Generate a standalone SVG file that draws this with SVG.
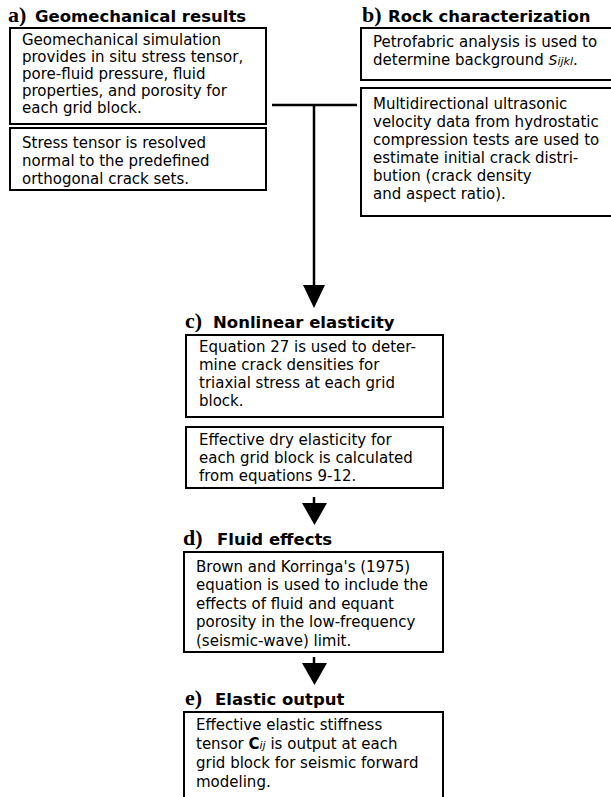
<svg xmlns="http://www.w3.org/2000/svg" width="611" height="797" viewBox="0 0 611 797">
<style>
.box{fill:#fff;stroke:#000;stroke-width:2}
.t{font-family:"DejaVu Sans","Liberation Sans",sans-serif;font-size:15px;fill:#000}
.h{font-family:"DejaVu Sans","Liberation Sans",sans-serif;font-size:16.5px;font-weight:bold;fill:#000}
.l{font-family:"Liberation Serif","Times New Roman",serif;font-size:22px;font-weight:bold;fill:#000}
.ln{stroke:#000;stroke-width:2.5;fill:none}
</style>
<rect width="611" height="797" fill="#fff"/>
<g id="connectors">
<line class="ln" x1="272" y1="105" x2="357" y2="105"/>
<line class="ln" x1="314" y1="105" x2="314" y2="288"/>
<polygon points="303,285 325,285 314,308"/>
<line class="ln" x1="314" y1="497" x2="314" y2="505"/>
<polygon points="302,503 327,503 314.5,525"/>
<line class="ln" x1="314" y1="657" x2="314" y2="665"/>
<polygon points="302,663 327,663 314.5,685"/>
</g>
<g id="node-a">
<text class="l" x="8" y="22">a)</text>
<text class="h" x="35" y="22">Geomechanical results</text>
<rect class="box" x="10" y="28" width="256" height="96"/>
<text class="t" x="22" y="45">Geomechanical simulation</text>
<text class="t" x="22" y="62">provides in situ stress tensor,</text>
<text class="t" x="22" y="79">pore-fluid pressure, fluid</text>
<text class="t" x="22" y="96">properties, and porosity for</text>
<text class="t" x="22" y="113">each grid block.</text>
<rect class="box" x="10" y="128" width="256" height="62"/>
<text class="t" x="22" y="148">Stress tensor is resolved</text>
<text class="t" x="22" y="166">normal to the predefined</text>
<text class="t" x="22" y="184">orthogonal crack sets.</text>
</g>
<g id="node-b">
<text class="l" x="362" y="22">b)</text>
<text class="h" x="388" y="22">Rock characterization</text>
<rect class="box" x="361" y="28" width="260" height="52"/>
<text class="t" x="373" y="47">Petrofabric analysis is used to</text>
<text class="t" x="373" y="65">determine background <tspan font-style="italic" font-size="14">S</tspan><tspan font-style="italic" font-size="11">ijkl</tspan>.</text>
<rect class="box" x="361" y="88" width="260" height="128"/>
<text class="t" x="373" y="109">Multidirectional ultrasonic</text>
<text class="t" x="373" y="127">velocity data from hydrostatic</text>
<text class="t" x="373" y="145">compression tests are used to</text>
<text class="t" x="373" y="163">estimate initial crack distri-</text>
<text class="t" x="373" y="181">bution (crack density</text>
<text class="t" x="373" y="199">and aspect ratio).</text>
</g>
<g id="node-c">
<text class="l" x="185" y="328">c)</text>
<text class="h" x="213" y="328">Nonlinear elasticity</text>
<rect class="box" x="186" y="335" width="257" height="82"/>
<text class="t" x="199" y="352">Equation 27 is used to deter-</text>
<text class="t" x="199" y="370">mine crack densities for</text>
<text class="t" x="199" y="388">triaxial stress at each grid</text>
<text class="t" x="199" y="406">block.</text>
<rect class="box" x="186" y="427" width="257" height="61"/>
<text class="t" x="199" y="445">Effective dry elasticity for</text>
<text class="t" x="199" y="463">each grid block is calculated</text>
<text class="t" x="199" y="481">from equations 9-12.</text>
</g>
<g id="node-d">
<text class="l" x="183" y="545">d)</text>
<text class="h" x="217" y="545">Fluid effects</text>
<rect class="box" x="184" y="552" width="259" height="100"/>
<text class="t" x="196" y="572">Brown and Korringa's (1975)</text>
<text class="t" x="196" y="590">equation is used to include the</text>
<text class="t" x="196" y="609">effects of fluid and equant</text>
<text class="t" x="196" y="627">porosity in the low-frequency</text>
<text class="t" x="196" y="646">(seismic-wave) limit.</text>
</g>
<g id="node-e">
<text class="l" x="185" y="705">e)</text>
<text class="h" x="215" y="705">Elastic output</text>
<rect class="box" x="184" y="712" width="259" height="90"/>
<text class="t" x="196" y="730">Effective elastic stiffness</text>
<text class="t" x="196" y="749">tensor <tspan font-weight="bold">C</tspan><tspan font-style="italic" font-size="11">ij</tspan> is output at each</text>
<text class="t" x="196" y="768">grid block for seismic forward</text>
<text class="t" x="196" y="787">modeling.</text>
</g>
</svg>
